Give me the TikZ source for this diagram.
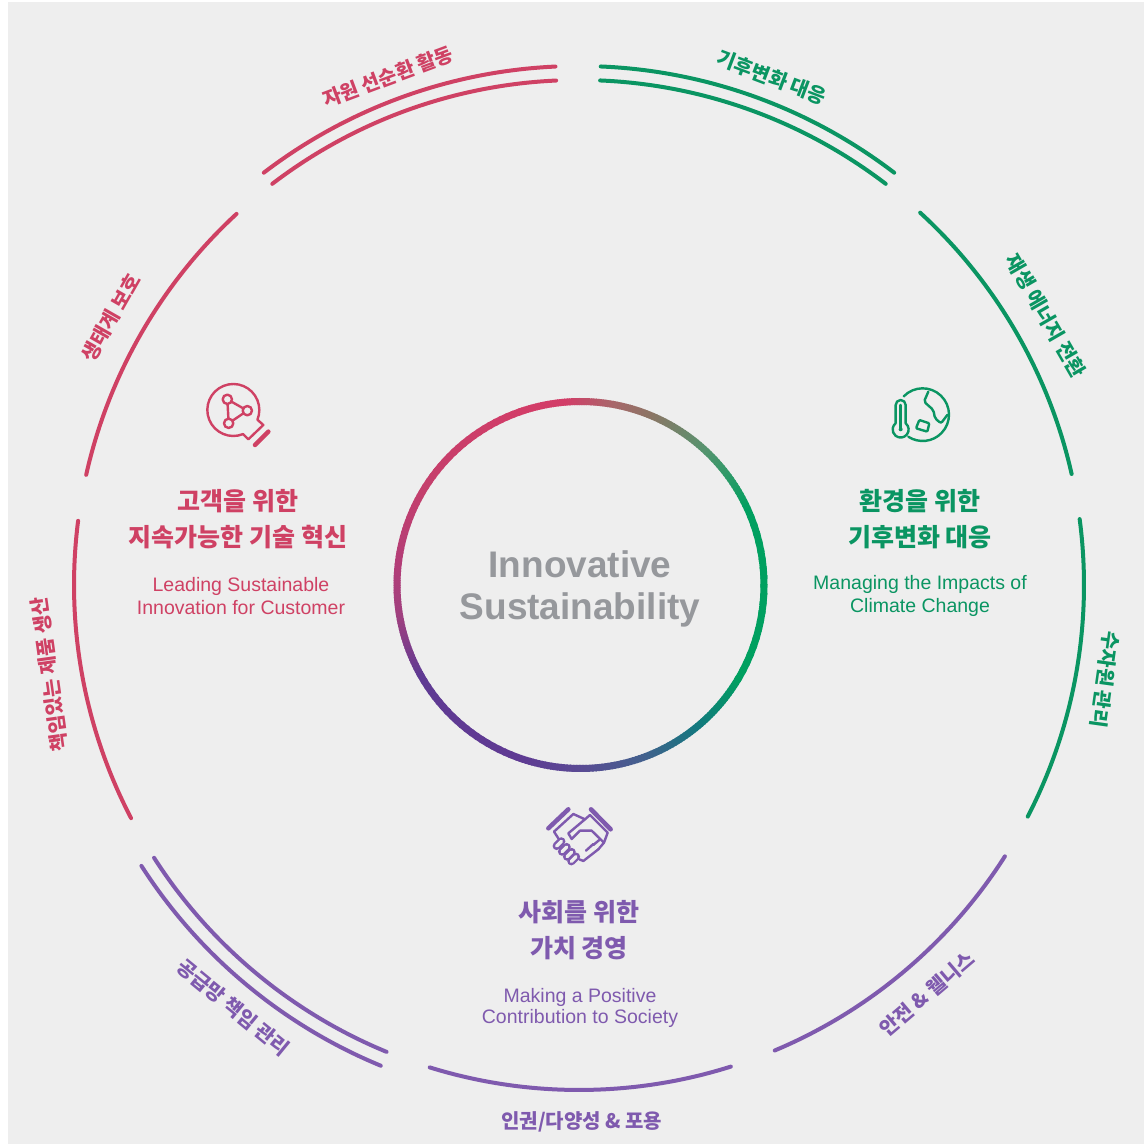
\documentclass[tikz,border=0pt]{standalone}
\usepackage{fontspec}
\setmainfont{Liberation Sans}
\newfontfamily\krfont{Noto Sans CJK KR}
\definecolor{bggray}{HTML}{EEEEEE}
\definecolor{titlegray}{HTML}{96989C}
\definecolor{redc}{HTML}{CF4164}
\definecolor{greenc}{HTML}{0A9562}
\definecolor{purplec}{HTML}{7F5AAE}
\definecolor{rgreen}{HTML}{00A060}
\definecolor{rteal}{HTML}{12787E}
\definecolor{rblue}{HTML}{44608E}
\definecolor{rviolet}{HTML}{5A4A94}
\definecolor{rpurple}{HTML}{5F3A93}
\definecolor{rplum}{HTML}{A0407F}
\definecolor{rrose}{HTML}{B23D78}
\definecolor{rcoral}{HTML}{C43F6C}
\definecolor{rred}{HTML}{D23D68}
\definecolor{rdusk}{HTML}{A8676A}
\definecolor{rbrown}{HTML}{8C7565}
\definecolor{rsage}{HTML}{56946F}
\begin{document}
\begin{tikzpicture}[x=1pt,y=1pt]
      \tikzset { arcline/.style = { line width=4pt,line cap=round } }
      \tikzset { ringline/.style = { line width=7pt } }
      \tikzset { arclabel/.style = { inner sep=0,font=\krfont\bfseries\fontsize{20}{22}\selectfont } }
      \tikzset { heading/.style = { inner sep=0,align=center,font=\krfont\bfseries\fontsize{25}{36}\selectfont } }
      \tikzset { subhead/.style = { inner sep=0,align=center,font=\fontsize{19.5}{23}\selectfont } }
      \tikzset { iconline/.style = { line width=2.4pt,line join=round,line cap=round } }
      \tikzset { iconbar/.style = { line width=4.5pt,line cap=round } }

      \useasboundingbox (0,0) rectangle (1144,1144);
      \fill[white] (0,0) rectangle (1144,1144);
      \fill[bggray] (8,0) rectangle (1144,1142);

      \begin{scope}[shift={(579,559)}]
      % outer arcs
      \foreach \s/\e/\r/\c in {87.6/52.6/505/greenc, 87.6/52.6/519/greenc, 47.5/12.7/505/greenc, 7.5/-27.3/505/greenc,
          -32.5/-67.2/505/purplec, -72.5/-107.2/505/purplec, -112.4/-147.3/505/purplec, -112.4/-147.3/520/purplec,
          -152.5/-187.3/505/redc, -192.6/-227.3/505/redc, -232.6/-267.4/505/redc, -232.6/-267.4/519/redc}
        \draw[arcline,\c] (\s:\r) arc[start angle=\s,end angle=\e,radius=\r];

      % arc labels
      \foreach \n/\a/\r/\rot/\c/\t in {lbclimate/69.2/543/-20.8/greenc/기후변화 대응,
          lbenergy/30/539/-60/greenc/재생 에너지 전환,
          lbwater/-10.2/534.5/-98/greenc/수자원 관리,
          lbsafety/-49.6/537/40.4/purplec/안전 \& 웰니스,
          lbpeople/-89.7/537/0/purplec/{인권/다양성 \& 포용},
          lbsupply/230.7/546/-39.3/purplec/공급망 책임 관리,
          lbproduct/189.6/537/98/redc/책임있는 제품 생산,
          lbnature/150.3/539/60.3/redc/생태계 보호,
          lbcycle/110.6/543/20.5/redc/자원 선순환 활동}
        \node[arclabel,text=\c,rotate=\rot] (\n) at (\a:\r) {\t};

      % center ring
      \begin{scope}[shift={(1.5,0)}]
      \foreach \sa/\sb/\ca/\cb in {25/-30/rgreen/rgreen, -30/-50/rgreen/rteal, -50/-70/rteal/rblue, -70/-90/rblue/rviolet,
          -90/-110/rviolet/rpurple, -110/-150/rpurple/rpurple, -150/-170/rpurple/rplum, -170/-185/rplum/rrose,
          -185/-210/rrose/rcoral, -210/-250/rcoral/rred, -250/-265/rred/rred, -265/-280/rred/rdusk,
          -280/-292/rdusk/rbrown, -292/-312/rbrown/rsage, -312/-335/rsage/rgreen}
        \foreach \k in {0,5,...,95} {
          \pgfmathsetmacro{\ta}{\sa+(\sb-\sa)*\k/100}
          \pgfmathsetmacro{\tb}{\ta+(\sb-\sa)*0.07}
          \draw[ringline,\cb!\k!\ca] (\ta:183.5) arc[start angle=\ta,end angle=\tb,radius=183.5];
        }
      \end{scope}
      \end{scope}

      \node[inner sep=0,align=center,text=titlegray,font=\bfseries\fontsize{37}{42}\selectfont] (title) at (580,555.5) {Innovative\\Sustainability};

      \node[heading,text=redc] (headred) at (238,625) {고객을 위한\\지속가능한 기술 혁신};
      \node[subhead,text=redc] (subred) at (241,548) {Leading Sustainable\\Innovation for Customer};
      \node[heading,text=greenc] (headgreen) at (920,625) {환경을 위한\\기후변화 대응};
      \node[subhead,text=greenc] (subgreen) at (920,548) {Managing the Impacts of\\Climate Change};
      \node[heading,text=purplec] (headpurple) at (579,214) {사회를 위한\\가치 경영};
      \node[subhead,text=purplec,font=\fontsize{19.5}{21}\selectfont] (subpurple) at (580,136.5) {Making a Positive\\Contribution to Society};

      % bulb icon
      \begin{scope}[shift={(180,774)},x=0.3333pt,y=-0.3333pt,redc]
        \draw[iconline] (160,120) ++(68:78) arc[start angle=68,end angle=382,radius=78] -- (250,165) -- (205,208) -- cycle;
        \draw[iconbar] (225,225) -- (265,185);
        \draw[iconline] (142,88) -- (202,122) -- (146,160) -- cycle;
        \foreach \p in {(142,88),(202,122),(146,160)}
          \draw[iconline,fill=bggray] \p circle[radius=14];
      \end{scope}

      % globe icon
      \begin{scope}[shift={(870,774)},x=0.3333pt,y=-0.3333pt,greenc]
        \draw[iconline] (158,134) ++(-136:79) arc[start angle=-136,end angle=123,radius=79];
        \draw[iconline,rounded corners=2pt] (175,65) -- (162,95) -- (190,120) -- (195,145) -- (213,160) -- (232,135);
        \draw[iconline,rounded corners=1pt] (148,150) -- (178,160) -- (172,185) -- (138,175) -- cycle;
        \draw[iconline] (77,105) arc[start angle=180,end angle=360,radius=15] -- (107,160) arc[start angle=-51,end angle=231,radius=24] -- cycle;
        \draw[iconline] (92,105) -- (92,178);
        \fill (92,178) circle[radius=6];
      \end{scope}

      % handshake icon
      \begin{scope}[shift={(530,354)},x=0.3333pt,y=-0.3333pt,purplec]
        \draw[iconbar] (55,115) -- (115,58);
        \draw[iconbar] (183,58) -- (242,118);
        \draw[iconline] (85,145) -- (72,125) -- (130,72) -- (165,88) -- (115,130) -- (125,147) -- (150,122) -- (185,122) -- (222,158) -- (205,178);
        \draw[iconline] (165,88) -- (180,75) -- (233,128) -- (222,158);
        \draw[iconline] (205,178) -- (160,213) -- (148,208);
        \draw[iconline] (190,162) -- (168,182);
        \draw[iconline] (208,150) -- (190,165);
        \foreach \x/\y in {80/168,96/185,111/200,124/214}
          \draw[line width=2.4pt,line cap=round,purplec,double=bggray,double distance=3.4pt] (\x,\y) -- ++(14,-14);
      \end{scope}
    \end{tikzpicture}
\end{document}
